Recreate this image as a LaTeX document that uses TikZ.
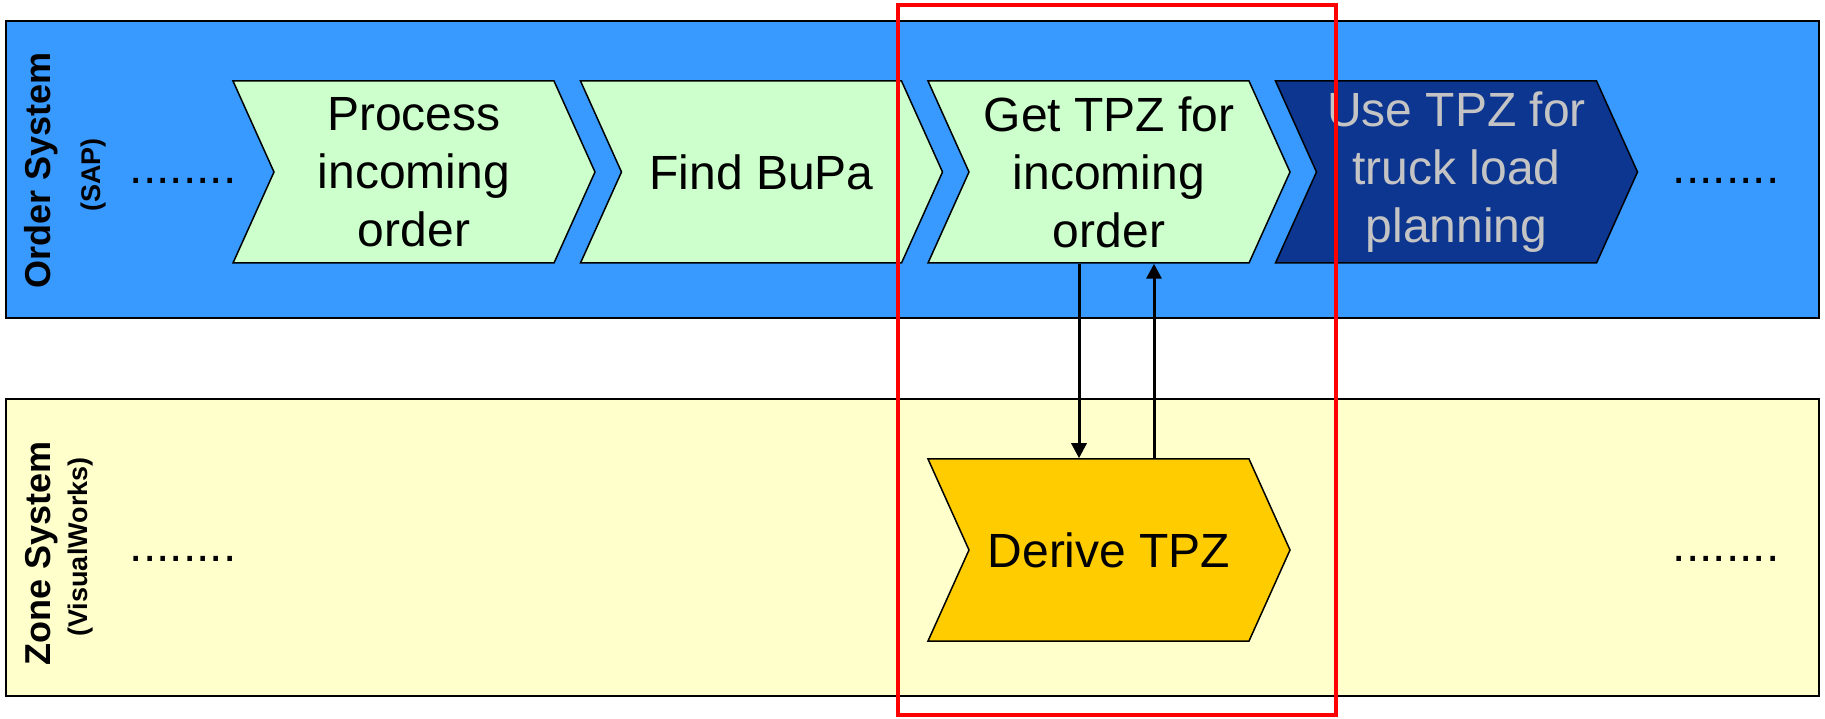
\documentclass[tikz,border=0pt]{standalone}
\usepackage{fontspec}
\setmainfont{Liberation Sans}
\usepackage{tikz}
\usetikzlibrary{arrows.meta, shapes, shapes.symbols}

\definecolor{laneblue}{RGB}{56,153,255}
\definecolor{laneyellow}{RGB}{255,255,204}
\definecolor{stepgreen}{RGB}{204,255,204}
\definecolor{stepdark}{RGB}{13,54,145}
\definecolor{stepgold}{RGB}{255,204,0}
\definecolor{stepgrey}{RGB}{196,196,196}

\begin{document}
\begin{tikzpicture}[x=1pt, y=1pt, node distance = 347.5pt]
\tikzstyle{lane_box}=[rectangle, draw=black, line width=2pt, minimum width=1813pt, minimum height=297pt]
\tikzstyle{step_box}=[signal, signal from=west, signal to=east, signal pointer angle=131.5, draw=black, line width=1.5pt, minimum width=362pt, minimum height=182pt, inner sep=0pt, align=center, font=\fontsize{48}{58}\selectfont]
\tikzstyle{lane_title}=[rotate=90, anchor=base, inner sep=0pt, font=\bfseries\fontsize{36}{40}\selectfont]
\tikzstyle{lane_sub}=[rotate=90, anchor=base, inner sep=0pt, font=\bfseries\fontsize{27}{30}\selectfont]
\tikzstyle{more}=[anchor=base, inner sep=0pt, font=\fontsize{48}{58}\selectfont]
\tikzstyle{flow}=[line width=3pt, -{Triangle[length=15pt, width=15pt]}]
%
\useasboundingbox (0,0) rectangle (1825,718);
% swim lanes
\node [lane_box, fill=laneblue] (orderlane) at (912.5,548.5) {};
\node [lane_box, fill=laneyellow] (zonelane) at (912.5,170.5) {};
\node [lane_title] (ordertitle) at (50,548) {Order System};
\node [lane_sub] (ordersub) at (100,543) {(SAP)};
\node [lane_title] (zonetitle) at (50,165) {Zone System};
\node [lane_sub] (zonesub) at (87,171) {(VisualWorks)};
%
% process steps
\node [step_box, fill=stepgreen] (process) at (414,546) {Process\\incoming\\order};
\node [step_box, fill=stepgreen] (findbupa) [right of=process] {Find BuPa};
\node [step_box, fill=stepgreen] (gettpz) [right of=findbupa] {Get TPZ for\\incoming\\order};
\node [step_box, fill=stepdark, text=stepgrey] (usetpz) [right of=gettpz] {Use TPZ for\\truck load\\planning};
\node [step_box, fill=stepgold] (derive) [below of=gettpz, node distance=378pt] {Derive TPZ};
%
\node [more] (orderin) at (183,534) {........};
\node [more] (orderout) at (1726,534) {........};
\node [more] (zonein) at (183,157) {........};
\node [more] (zoneout) at (1726,157) {........};
%
\draw [flow] ([xshift=-30pt]gettpz.south) -- ([xshift=-30pt]derive.north);
\draw [flow] ([xshift=45pt]derive.north) -- ([xshift=45pt]gettpz.south);
%
\draw [red, line width=4pt] (898,3) rectangle (1336,713);
\end{tikzpicture}
\end{document}
